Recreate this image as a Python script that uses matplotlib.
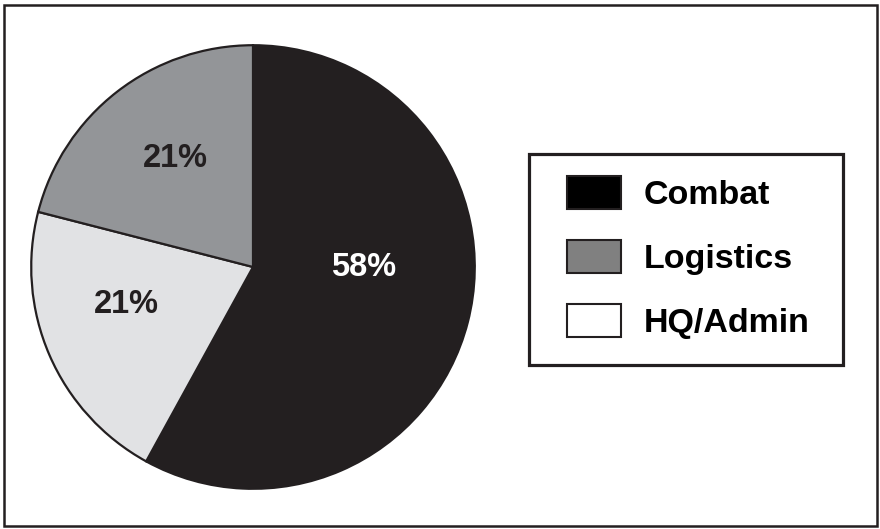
import matplotlib
matplotlib.use('Agg')
import matplotlib.pyplot as plt
from matplotlib.patches import Patch, Rectangle

# data
categories = ["Combat", "HQ/Admin", "Logistics"]
shares = [58, 21, 21]
slice_colors = ["#231f20", "#e1e2e4", "#939598"]
label_colors = ["white", "#231f20", "#231f20"]
label_pos = [(0.5, 0.0), (-0.57, -0.17), (-0.35, 0.49)]

legend_names = ["Combat", "Logistics", "HQ/Admin"]
legend_colors = ["#000000", "#808080", "#ffffff"]

plt.rcParams['font.family'] = ['Liberation Sans', 'DejaVu Sans']

W, H = 880, 529
fig = plt.figure(figsize=(W / 100, H / 100), dpi=100)

# pie axes placed in pixel terms: centre (253, 267), radius ~224
cx, cy, r = 253, 267, 224
ax = fig.add_axes([(cx - r) / W, (H - cy - r) / H, 2 * r / W, 2 * r / H])
wedges, texts, autotexts = ax.pie(
    shares, colors=slice_colors, startangle=90, counterclock=False,
    autopct='%d%%', pctdistance=0.6, radius=1,
    wedgeprops=dict(edgecolor='#231f20', linewidth=1.6),
    textprops=dict(fontsize=23.5, fontweight='bold'))
for t, c, p in zip(autotexts, label_colors, label_pos):
    t.set_color(c)
    t.set_position(p)
ax.set_xlim(-1.01, 1.01)
ax.set_ylim(-1.01, 1.01)
ax.set_aspect('equal')
ax.axis('off')

handles = [Patch(facecolor=c, edgecolor='#231f20', linewidth=1.5) for c in legend_colors]
leg = fig.legend(handles, legend_names, loc='upper left',
                 bbox_to_anchor=(567 / W, 1 - 176 / H),
                 prop=dict(size=24.5, weight='bold'),
                 handlelength=1.6, handleheight=1.1, handletextpad=0.65,
                 labelspacing=0.86, borderpad=0, borderaxespad=0,
                 frameon=False)

# legend frame
fig.patches.append(Rectangle((529 / W, 1 - 365 / H), 314 / W, 211 / H, transform=fig.transFigure,
                             fill=False, edgecolor='#231f20', linewidth=2.3))
# outer frame
fig.patches.append(Rectangle((4 / W, 3 / H), 873 / W, 521 / H, transform=fig.transFigure,
                             fill=False, edgecolor='#231f20', linewidth=1.8))

fig.savefig('out.png', dpi=100)
